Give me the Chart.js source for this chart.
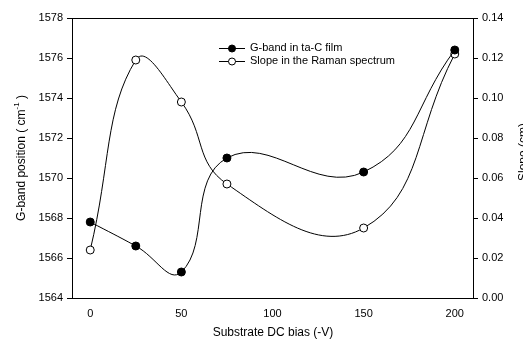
<!DOCTYPE html>
<html>
<head>
<meta charset="utf-8">
<script src="https://cdn.jsdelivr.net/npm/chart.js@4"></script>
<style>
  html, body { margin: 0; padding: 0; background: #fff; }
  #wrap { width: 523px; height: 344px; position: relative; }
</style>
</head>
<body>
<div id="wrap"><canvas id="chart" width="523" height="344"></canvas></div>
<script>
// Chart data
const biasValues = [0, 25, 50, 75, 150, 200];
const gBandPosition = [1567.8, 1566.6, 1565.3, 1571.0, 1570.3, 1576.4];
const ramanSlope = [0.024, 0.119, 0.098, 0.057, 0.035, 0.122];
const xTicks = [0, 50, 100, 150, 200];
const leftTicks = [1564, 1566, 1568, 1570, 1572, 1574, 1576, 1578];
const rightTicks = [0.00, 0.02, 0.04, 0.06, 0.08, 0.10, 0.12, 0.14];
const seriesNames = ['G-band in ta-C film', 'Slope in the Raman spectrum'];

const FONT = 'Liberation Sans, Arial, sans-serif';
const fontSpec = { family: FONT, size: 11 };

// Frame, axis titles and legend drawn by hand
const decorPlugin = {
    id: 'decor',
    afterDraw(chart) {
        const { ctx, chartArea: a } = chart;
        ctx.save();
        ctx.strokeStyle = '#000';
        ctx.lineWidth = 1;
        ctx.strokeRect(Math.round(a.left) + 0.5, Math.round(a.top) + 0.5,
            Math.round(a.right - a.left), Math.round(a.bottom - a.top));

        ctx.fillStyle = '#000';
        ctx.font = '12px ' + FONT;

        // x title
        ctx.textAlign = 'center';
        ctx.textBaseline = 'middle';
        ctx.fillText('Substrate DC bias (-V)', 273, 333);

        // left title with superscript
        ctx.save();
        ctx.translate(22, 158);
        ctx.rotate(-Math.PI / 2);
        const t1 = 'G-band position ( cm', sup = '-1', t2 = ' )';
        ctx.font = '12px ' + FONT;
        const w1 = ctx.measureText(t1).width;
        const w2 = ctx.measureText(t2).width;
        ctx.font = '8px ' + FONT;
        const ws = ctx.measureText(sup).width;
        let x = -(w1 + ws + w2) / 2;
        ctx.textAlign = 'left';
        ctx.font = '12px ' + FONT;
        ctx.fillText(t1, x, 0);
        ctx.font = '8px ' + FONT;
        ctx.fillText(sup, x + w1, -5);
        ctx.font = '12px ' + FONT;
        ctx.fillText(t2, x + w1 + ws, 0);
        ctx.restore();

        // right title, clipped by the page edge
        ctx.save();
        ctx.translate(527, 152);
        ctx.rotate(-Math.PI / 2);
        ctx.font = '12px ' + FONT;
        ctx.textAlign = 'center';
        ctx.textBaseline = 'alphabetic';
        ctx.fillText('Slope (cm)', 0, 0);
        ctx.restore();

        // legend
        const rows = [48, 61];
        ctx.font = '11px ' + FONT;
        ctx.textAlign = 'left';
        ctx.textBaseline = 'middle';
        rows.forEach((y, i) => {
            ctx.beginPath();
            ctx.moveTo(219, y + 0.5);
            ctx.lineTo(245, y + 0.5);
            ctx.stroke();
            ctx.beginPath();
            ctx.arc(232, y + 0.5, 3.5, 0, Math.PI * 2);
            ctx.fillStyle = i === 0 ? '#000' : '#fff';
            ctx.fill();
            ctx.stroke();
            ctx.fillStyle = '#000';
            ctx.fillText(seriesNames[i], 250, y);
        });
        ctx.restore();
    }
};

const ctx = document.getElementById('chart').getContext('2d');

new Chart(ctx, {
    type: 'line',
    data: {
        datasets: [
            {
                label: seriesNames[0],
                data: biasValues.map((b, i) => ({ x: b, y: gBandPosition[i] })),
                borderColor: '#000',
                borderWidth: 1,
                backgroundColor: '#000',
                pointBackgroundColor: '#000',
                pointBorderColor: '#000',
                pointRadius: 4,
                tension: 0.45,
                yAxisID: 'y'
            },
            {
                label: seriesNames[1],
                data: biasValues.map((b, i) => ({ x: b, y: ramanSlope[i] })),
                borderColor: '#000',
                borderWidth: 1,
                backgroundColor: '#fff',
                pointBackgroundColor: '#fff',
                pointBorderColor: '#000',
                pointRadius: 4,
                tension: 0.45,
                yAxisID: 'y1'
            }
        ]
    },
    options: {
        responsive: false,
        animation: false,
        layout: { padding: { top: 18, left: 0, right: 0, bottom: 0 } },
        plugins: {
            legend: { display: false },
            tooltip: { enabled: false }
        },
        scales: {
            x: {
                type: 'linear',
                min: -10,
                max: 210,
                afterFit: s => { s.height = 46; },
                afterBuildTicks: s => { s.ticks = xTicks.map(v => ({ value: v })); },
                grid: { display: false, drawOnChartArea: false, tickLength: 5, color: '#000' },
                border: { display: false },
                ticks: { color: '#000', font: fontSpec, padding: 4, maxRotation: 0, callback: v => String(v) }
            },
            y: {
                type: 'linear',
                position: 'left',
                min: 1564,
                max: 1578,
                afterFit: s => { s.width = 72; },
                afterBuildTicks: s => { s.ticks = leftTicks.map(v => ({ value: v })); },
                grid: { drawOnChartArea: false, tickLength: 5, color: '#000' },
                border: { display: false },
                ticks: { color: '#000', font: fontSpec, padding: 4, callback: v => String(v) }
            },
            y1: {
                type: 'linear',
                position: 'right',
                min: 0,
                max: 0.14,
                afterFit: s => { s.width = 50; },
                afterBuildTicks: s => { s.ticks = rightTicks.map(v => ({ value: v })); },
                grid: { drawOnChartArea: false, tickLength: 5, color: '#000' },
                border: { display: false },
                ticks: {
                    color: '#000',
                    font: fontSpec,
                    padding: 4,
                    callback: v => v.toFixed(2)
                }
            }
        }
    },
    plugins: [decorPlugin]
});
</script>
</body>
</html>
